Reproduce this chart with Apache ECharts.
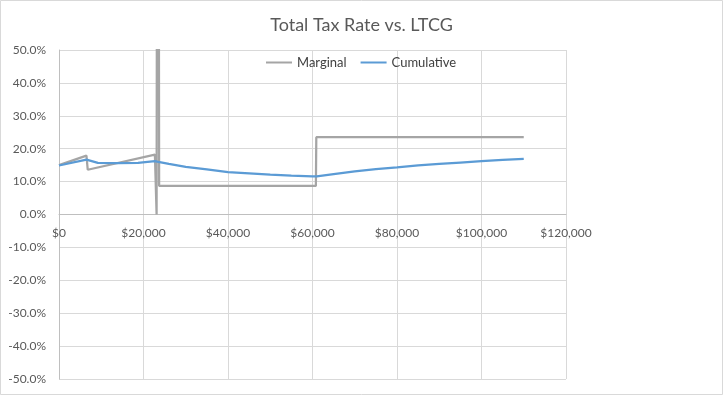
<!DOCTYPE html>
<html>
<head>
<meta charset="utf-8">
<script src="https://cdn.jsdelivr.net/npm/echarts@6/dist/echarts.min.js"></script>
<style>html,body{margin:0;padding:0;background:#fff;}#c{width:723px;height:395px;}</style>
</head>
<body>
<div id="c"></div>
<script>
// Marginal tax rate vs LTCG ($, %)
const marginalX = [0, 6500, 6800, 22700, 23100, 23400, 23700, 60800, 60900, 110000];
const marginalY = [15.0, 17.9, 13.6, 18.2, 0, 300, 8.7, 8.7, 23.5, 23.5];
// Cumulative tax rate vs LTCG ($, %)
const cumulativeX = [0, 6500, 9200, 14000, 18700, 22700, 23500, 26000, 30000, 35000, 40000, 45000, 50000, 55000, 60000, 61000, 65000, 70000, 75000, 80000, 85000, 90000, 95000, 100000, 105000, 110000];
const cumulativeY = [14.9, 16.7, 15.7, 15.6, 15.7, 16.2, 16.0, 15.4, 14.5, 13.7, 12.9, 12.5, 12.1, 11.8, 11.6, 11.6, 12.3, 13.1, 13.8, 14.3, 14.9, 15.4, 15.8, 16.2, 16.6, 16.9];
const seriesNames = ['Marginal', 'Cumulative'];
const titleText = 'Total Tax Rate vs. LTCG';

const pair = (xs, ys) => xs.map((x, i) => [x, ys[i]]);
const font = 'Lato, "Open Sans", sans-serif';
const gridTop = 50, gridBottom = 16, H = 395;
const yMin = -50, yMax = 50;
// distance of the 0% line from the bottom of the plot, so the x axis sits on zero
const zeroOffset = (H - gridTop - gridBottom) * (0 - yMin) / (yMax - yMin);
const chart = echarts.init(document.getElementById('c'), null, {renderer: 'canvas'});
chart.setOption({
  animation: false,
  backgroundColor: '#fff',
  title: {
    text: titleText, left: 'center', top: 11,
    textStyle: {fontFamily: font, fontSize: 18, fontWeight: 'normal', color: '#595959'}
  },
  legend: {
    data: seriesNames, left: 266, top: 56, padding: 0, icon: 'rect',
    itemWidth: 26, itemHeight: 2, itemGap: 14,
    textStyle: {fontFamily: font, fontSize: 13, color: '#404040'}
  },
  grid: {left: 59, right: 157, top: gridTop, bottom: gridBottom, containLabel: false, outerBoundsMode: 'none'},
  xAxis: {
    type: 'value', min: 0, max: 120000, interval: 20000,
    position: 'bottom', offset: -zeroOffset,
    axisLine: {onZero: false, lineStyle: {color: '#bfbfbf', width: 1}},
    axisTick: {show: false},
    splitLine: {show: true, lineStyle: {color: '#d9d9d9', width: 1}},
    axisLabel: {
      margin: 13, fontFamily: font, fontSize: 12, color: '#595959',
      formatter: v => '$' + v.toLocaleString('en-US')
    }
  },
  yAxis: {
    type: 'value', min: yMin, max: yMax, interval: 10,
    axisLine: {show: true, onZero: false, lineStyle: {color: '#bfbfbf', width: 1}},
    axisTick: {show: false},
    splitLine: {show: true, lineStyle: {color: '#d9d9d9', width: 1}},
    axisLabel: {
      margin: 13, fontFamily: font, fontSize: 12, color: '#595959',
      formatter: v => v.toFixed(1) + '%'
    }
  },
  series: [
    {
      name: seriesNames[0], type: 'line', data: pair(marginalX, marginalY),
      symbol: 'none', showSymbol: false, clip: true,
      lineStyle: {color: '#a5a5a5', width: 2.25}, itemStyle: {color: '#a5a5a5'}
    },
    {
      name: seriesNames[1], type: 'line', data: pair(cumulativeX, cumulativeY),
      symbol: 'none', showSymbol: false, clip: true,
      lineStyle: {color: '#5b9bd5', width: 2.25}, itemStyle: {color: '#5b9bd5'}
    }
  ],
  graphic: [{
    type: 'rect', shape: {x: 0.5, y: 0.5, width: 722, height: 394},
    style: {fill: 'none', stroke: '#d9d9d9', lineWidth: 1}, silent: true
  }]
});
</script>
</body>
</html>
